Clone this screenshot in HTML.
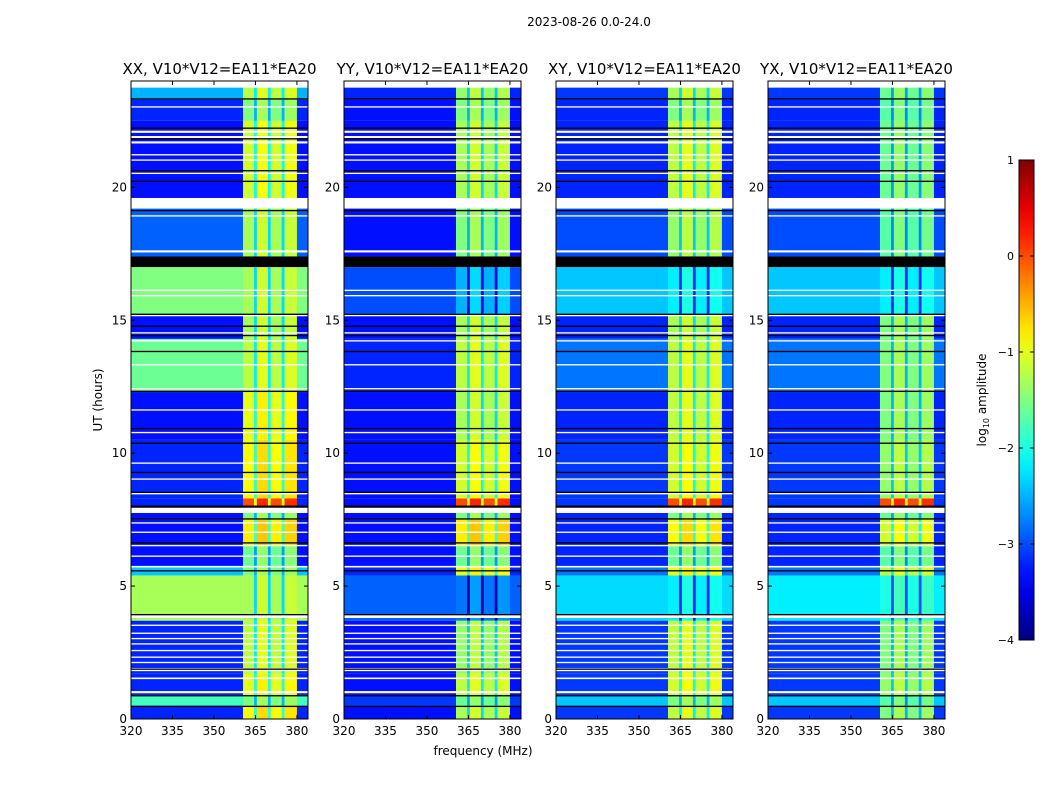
<!DOCTYPE html>
<html><head><meta charset="utf-8"><style>
body{margin:0;background:#fff}
svg text{font-family:"DejaVu Sans","Liberation Sans",sans-serif;fill:#000}
</style></head><body>
<svg id="fig" width="1050" height="800" xmlns="http://www.w3.org/2000/svg">
<text x="589" y="26" font-size="12" text-anchor="middle">2023-08-26 0.0-24.0</text>
<text x="483" y="755" font-size="12" text-anchor="middle">frequency (MHz)</text>
<text x="102" y="400" font-size="12" text-anchor="middle" transform="rotate(-90 102 400)">UT (hours)</text>
<g id="panels"></g>
<g id="cbar"></g>
</svg>
<script>
const panelTitles=["XX, V10*V12=EA11*EA20","YY, V10*V12=EA11*EA20","XY, V10*V12=EA11*EA20","YX, V10*V12=EA11*EA20"];
const xTicks=[320,335,350,365,380];
const yTicks=[0,5,10,15,20];
const cbTicks=[1,0,-1,-2,-3,-4];
const cbTickLabels=["1","0","\u22121","\u22122","\u22123","\u22124"];
// time segments (hours)
const segStart=[0,0.5,0.9,1.7,3.7,5.4,5.7,6.5,7.5,7.9,8.3,10.5,12.3,14.3,15.2,17.4,19.5,22.5,23.3];
const segEnd  =[0.5,0.9,1.7,3.7,5.4,5.7,6.5,7.5,7.9,8.3,10.5,12.3,14.3,15.2,17.0,19.2,22.5,23.3,23.75];
// log10 amplitude levels: low band (320-360) and high band (360-380), per panel
const lowXX =[-3.2,-1.8,-3.2,-3.2,-1.3,-2.4,-3.3,-3.3,-3.3,-3.2,-3.2,-3.3,-1.6,-3.3,-1.5,-2.9,-3.3,-3.2,-2.5];
const highXX=[-0.9,-1.5,-1.0,-1.2,-1.3,-1.5,-1.6,-0.8,-1.5, 0.0,-0.9,-1.0,-1.2,-1.3,-1.3,-1.3,-1.1,-1.5,-1.2];
const lowYY =[-3.3,-3.1,-3.3,-3.3,-2.9,-3.2,-3.3,-3.3,-3.3,-3.3,-3.3,-3.3,-3.2,-3.3,-3.0,-3.3,-3.3,-3.3,-3.2];
const highYY=[-1.3,-1.6,-1.2,-1.4,-2.8,-1.0,-1.6,-0.8,-1.5, 0.0,-1.1,-1.3,-1.2,-1.3,-2.5,-1.5,-1.3,-1.5,-1.4];
const lowXY =[-3.1,-2.4,-3.1,-3.1,-2.3,-2.8,-3.2,-3.2,-3.2,-3.1,-3.1,-3.2,-2.8,-3.2,-2.4,-3.0,-3.2,-3.2,-3.1];
const highXY=[-1.2,-1.5,-1.1,-1.2,-2.2,-1.0,-1.6,-0.9,-1.5, 0.0,-1.1,-1.2,-1.2,-1.3,-2.2,-1.4,-1.2,-1.5,-1.3];
const lowYX =[-3.1,-2.4,-3.1,-3.1,-2.2,-2.8,-3.2,-3.2,-3.2,-3.1,-3.1,-3.2,-2.8,-3.2,-2.4,-3.0,-3.2,-3.2,-3.1];
const highYX=[-1.5,-1.7,-1.4,-1.5,-2.0,-1.2,-1.7,-1.1,-1.6, 0.0,-1.4,-1.5,-1.5,-1.5,-2.2,-1.7,-1.6,-1.7,-1.6];
const lowLevels=[lowXX,lowYY,lowXY,lowYX];
const highLevels=[highXX,highYY,highXY,highYX];
// frequency segments (MHz), band (0 low / 1 high), offset
const fStart=[320,360.5,364.5,365.5,369.5,370.5,374.5,375.5,380];
const fEnd  =[360.5,364.5,365.5,369.5,370.5,374.5,375.5,380,384];
const fBand =[0,1,1,1,1,1,1,1,0];
const fOff  =[0,0,-1.0,0.2,-1.0,0,-1.0,0.15,0];
// flagged rows
const whiteRows=[0.97,1.5,1.8,2.1,2.3,2.55,2.8,3.0,3.2,3.5,3.8,5.7,6.1,6.5,7.0,7.35,7.75,8.45,9.0,9.6,10.75,11.6,12.4,13.3,14.2,14.5,15.15,15.9,16.1,17.25,17.55,18.9,19.35,20.5,21.0,21.2,21.65,21.85,22.05,23.0];
const whiteH   =[0.08,0.06,0.12,0.05,0.05,0.05,0.05,0.05,0.05,0.05,0.12,0.06,0.05,0.05,0.05,0.05,0.2,0.06,0.05,0.05,0.05,0.05,0.05,0.05,0.05,0.05,0.1,0.05,0.05,0.08,0.08,0.05,0.25,0.05,0.05,0.05,0.08,0.08,0.08,0.05];
const blackRows=[0.45,0.85,1.85,3.9,5.55,6.6,7.5,7.95,8.5,9.25,10.35,10.9,12.3,13.8,14.4,14.75,15.2,17.0,19.1,20.2,20.6,21.8,22.2,23.3];
const blackH   =[0.05,0.05,0.05,0.05,0.05,0.05,0.05,0.08,0.05,0.05,0.05,0.05,0.05,0.05,0.05,0.05,0.05,0.4,0.05,0.05,0.05,0.05,0.05,0.05];

const NS="http://www.w3.org/2000/svg";
const lefts=[131,344,556,768], W=177, TOP=81, H=638;
const X0=320,X1=384,Y0=0,Y1=24;
function jet(v){
  const r=Math.min(Math.max(Math.min(4*v-1.5,-4*v+4.5),0),1);
  const g=Math.min(Math.max(Math.min(4*v-0.5,-4*v+3.5),0),1);
  const b=Math.min(Math.max(Math.min(4*v+0.5,-4*v+2.5),0),1);
  return `rgb(${Math.round(r*255)},${Math.round(g*255)},${Math.round(b*255)})`;
}
function col(l){return jet(Math.min(Math.max((l+4)/5,0),1));}
function mk(tag,attrs,parent){const e=document.createElementNS(NS,tag);for(const k in attrs)e.setAttribute(k,attrs[k]);parent.appendChild(e);return e;}
const root=document.getElementById('panels');
for(let p=0;p<4;p++){
  const L=lefts[p];
  const xs=f=>L+(f-X0)/(X1-X0)*W;
  const ys=h=>TOP+H-(h-Y0)/(Y1-Y0)*H;
  const g=mk('g',{},root);
  
  
  const hm=mk('g',{},g);
  
  
  for(let i=0;i<segStart.length;i++){
    for(let j=0;j<fStart.length;j++){
      const lv=(fBand[j]?highLevels[p][i]:lowLevels[p][i])+fOff[j];
      const r=mk('rect',{x:xs(fStart[j]),y:ys(segEnd[i]),width:xs(fEnd[j])-xs(fStart[j])+0.3,height:ys(segStart[i])-ys(segEnd[i]),fill:col(lv)},hm);
      
      
    }
  }
  for(let k=0;k<whiteRows.length;k++){
    const r=mk('rect',{x:L,y:ys(whiteRows[k]+whiteH[k]),width:W,height:Math.max(ys(whiteRows[k])-ys(whiteRows[k]+whiteH[k]),1),fill:'#fff'},hm);
    
    
  }
  for(let k=0;k<blackRows.length;k++){
    const r=mk('rect',{x:L,y:ys(blackRows[k]+blackH[k]),width:W,height:Math.max(ys(blackRows[k])-ys(blackRows[k]+blackH[k]),1.2),fill:'#000'},hm);
    
    
  }
  const fr=mk('rect',{x:L,y:TOP,width:W,height:H,fill:'none',stroke:'#000','stroke-width':1},g);
  
  
  const t=mk('text',{x:L+W/2,y:TOP-7,'font-size':15,'text-anchor':'middle'},g);
  t.textContent=panelTitles[p];
  
  
  xTicks.forEach(v=>{
    const x=xs(v);
    mk('line',{x1:x,x2:x,y1:TOP+H,y2:TOP+H-4,stroke:'#000'},g);
    mk('line',{x1:x,x2:x,y1:TOP,y2:TOP+4,stroke:'#000'},g);
    const tx=mk('text',{x:x,y:TOP+H+16,'font-size':12,'text-anchor':'middle'},g);
    tx.textContent=v;
    
    
  });
  yTicks.forEach(v=>{
    const y=ys(v);
    mk('line',{x1:L,x2:L+4,y1:y,y2:y,stroke:'#000'},g);
    mk('line',{x1:L+W,x2:L+W-4,y1:y,y2:y,stroke:'#000'},g);
    const tx=mk('text',{x:L-4,y:y+4,'font-size':12,'text-anchor':'end'},g);
    tx.textContent=v;
    
    
  });
}
const cb=document.getElementById('cbar');
const CX=1019,CW=15,CT=160,CH=480;
const defs=mk('defs',{},cb);
const lg=mk('linearGradient',{id:'jetg',x1:0,y1:1,x2:0,y2:0},defs);
for(let i=0;i<=20;i++){mk('stop',{offset:i/20,'stop-color':jet(i/20)},lg);}
const cr=mk('rect',{x:CX,y:CT,width:CW,height:CH,fill:'url(#jetg)',stroke:'#000','stroke-width':1},cb);


cbTicks.forEach((v,i)=>{
  const y=CT+(1-v)/5*CH;
  mk('line',{x1:CX,x2:CX+4,y1:y,y2:y,stroke:'#000'},cb);
  mk('line',{x1:CX+CW,x2:CX+CW-4,y1:y,y2:y,stroke:'#000'},cb);
  const tx=mk('text',{x:CX-5,y:y+4,'font-size':11,'text-anchor':'end'},cb);
  tx.textContent=cbTickLabels[i];
  
  
});
const cl=mk('text',{x:986,y:400,'font-size':12,'text-anchor':'middle',transform:'rotate(-90 986 400)'},cb);
cl.innerHTML='log<tspan font-size="8" dy="3">10</tspan><tspan dy="-3"> amplitude</tspan>';


</script>
</body></html>
